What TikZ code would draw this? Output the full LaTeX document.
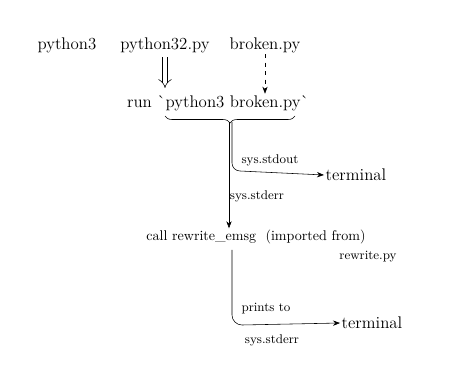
\documentclass[tikz,border=0pt]{standalone}
\usepackage{fontspec}
\usetikzlibrary{arrows.meta, positioning, decorations.pathreplacing, calc}

\begin{document}
\begin{tikzpicture}[x=0.025cm, y=-0.025cm,
    lbl/.style={font=\large, inner sep=1pt},
    small/.style={font=\small, inner sep=1pt},
    flow/.style={-{Stealth[length=5pt]}, thin}]
        % Marco invisible del dibujo
        \useasboundingbox (0,0) rectangle (453,366);

        % Fila superior: interprete y ficheros
        \node[lbl] (py3)  at (67,45)  {python3};
        \node[lbl] (py32) at (165,45) {python32.py};
        \node[lbl] (brk)  at (265,45) {broken.py};

        % Orden que se ejecuta
        \node[lbl] (run) at (218,103) {run \textasciigrave python3\ broken.py\textasciigrave};

        % Flechas hacia la orden
        \draw[double, double distance=3pt, -{Implies}] (py32.south) ++(0,3) coordinate (d1) -- (165,88);
        \draw[flow, dashed] (brk.south) -- (run.north -| brk.south);

        % Llave bajo la orden
        \draw[decorate, decoration={brace, amplitude=5pt}]
            (295,116) -- (165,116);
        \coordinate (brc) at (229,122);

        % Salida estandar hacia la terminal
        \node[lbl] (term1) at (356,175) {terminal};
        \draw[flow] ($(brc)+(3,0)$) -- (232,163) to[out=-90, in=180] (240,171) -- (term1.west);
        \node[small] (out) at (270,160) {sys.stdout};

        % Salida de errores hacia la llamada
        \node[font=\normalsize, inner sep=1pt] (call) at (256,237) {call rewrite\_emsg \ (imported from)};
        \node[small] (rwpy) at (368,257) {rewrite.py};
        \draw[flow] (brc) -- (call.north -| brc);
        \node[small] (err) at (257,196) {sys.stderr};

        % La llamada escribe en la terminal
        \node[lbl] (term2) at (372,323) {terminal};
        \draw[flow] (232,250) -- (232,315) to[out=-90, in=180] (242,325) -- (term2.west);
        \node[small] (prt) at (266,309) {prints to};
        \node[small] (err2) at (272,340) {sys.stderr};
    \end{tikzpicture}
\end{document}
